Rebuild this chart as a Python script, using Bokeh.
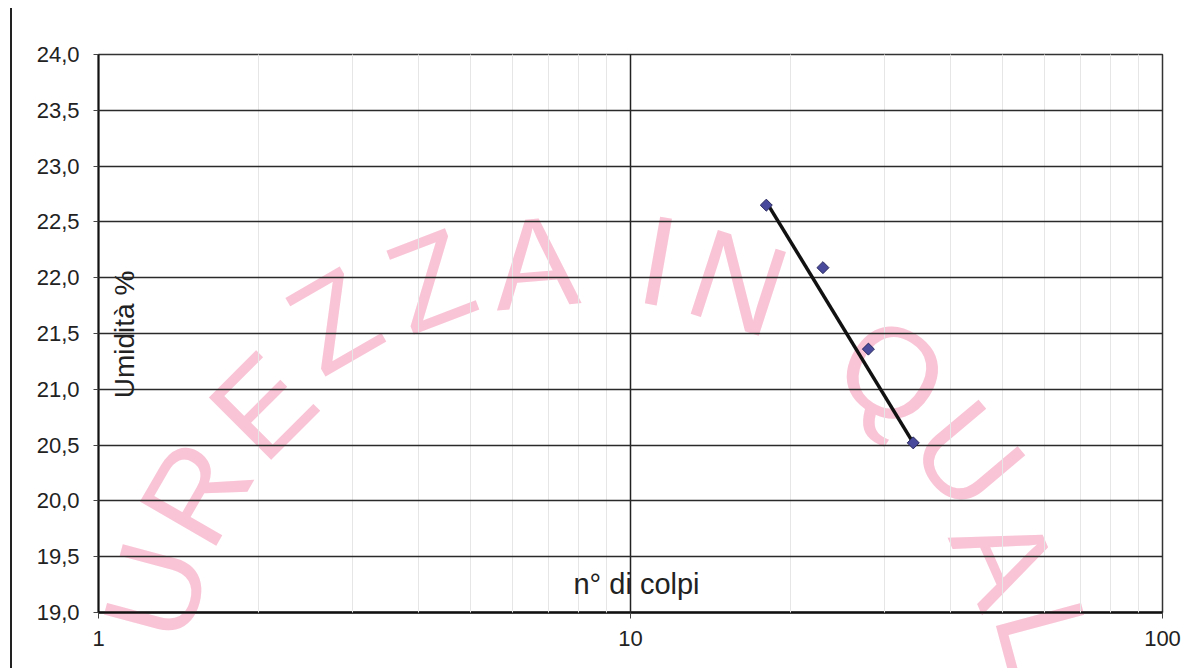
import math
from bokeh.plotting import figure
from bokeh.layouts import row
from bokeh.models import FixedTicker, Label, CustomJSTickFormatter, Div, ColumnDataSource
from bokeh.core.properties import value
from bokeh.embed import file_html
from bokeh.resources import INLINE

# ---- data ----
colpi = [18, 23, 28, 34]
umidita = [22.65, 22.09, 21.36, 20.52]
trend_x = [18, 34]
trend_y = [22.68, 20.52]
x_ticks = [1, 10, 100]
x_minor = [2, 3, 4, 5, 6, 7, 8, 9, 20, 30, 40, 50, 60, 70, 80, 90]
y_ticks = [19.0, 19.5, 20.0, 20.5, 21.0, 21.5, 22.0, 22.5, 23.0, 23.5, 24.0]
x_title = "n° di colpi"
y_title = "Umidità %"
watermark = ["U", "R", "E", "Z", "Z", "A", "I", "N", "Q", "U", "A", "L"]

# ---- layout (page pixel positions) ----
LEFT_STRIP = 12               # width of the strip holding the left border line
W, H = 1178, 668
FL, FR, FT, FB = 98, 1162, 54, 612  # frame edges on the page
XMIN, XMAX, YMIN, YMAX = 1, 100, 19, 24
p = figure(width=W, height=H, x_axis_type="log", x_range=(XMIN, XMAX), y_range=(YMIN, YMAX),
           output_backend="svg", toolbar_location=None,
           min_border_left=FL - LEFT_STRIP, min_border_right=W - (FR - LEFT_STRIP),
           min_border_top=FT, min_border_bottom=H - FB)

FONT = "Liberation Sans"

def fx(page_x):
    return page_x - FL

def fy(page_y):
    return FB - page_y

# watermark letters (decoration): page position -> plot coordinates
wm_pos = [(155, 590, 75), (195, 492, 60), (262, 405, 45), (333, 320, 30), (430, 280, 21),
          (535, 262, 5), (658, 260, -10), (738, 282, -18), (892, 372, -32), (968, 455, -50),
          (1005, 558, -66), (1045, 638, -75)]
lx0, lx1 = math.log10(XMIN), math.log10(XMAX)
wm_src = ColumnDataSource(dict(
    x=[10 ** (lx0 + (px - FL) / (FR - FL) * (lx1 - lx0)) for px, _, _ in wm_pos],
    y=[YMAX - (py - FT) / (FB - FT) * (YMAX - YMIN) for _, py, _ in wm_pos],
    a=[math.radians(a) for _, _, a in wm_pos],
    t=watermark))
p.text(x="x", y="y", text="t", angle="a", source=wm_src, text_align="center",
       text_baseline="middle", text_font=value(FONT), text_font_size="128px",
       text_color="#f9c4d5", level="guide")

# frame & background
p.background_fill_color = "white"
p.border_fill_color = "white"
p.outline_line_color = "#333333"
p.outline_line_width = 1.5

# grids (drawn above the watermark)
p.xgrid.ticker = FixedTicker(ticks=x_ticks, minor_ticks=x_minor)
p.xgrid.grid_line_color = "#222222"
p.xgrid.grid_line_width = 1.5
p.xgrid.minor_grid_line_color = "#e6e6e6"
p.xgrid.minor_grid_line_width = 1
p.ygrid.ticker = FixedTicker(ticks=y_ticks)
p.ygrid.grid_line_color = "#2a2a2a"
p.ygrid.grid_line_width = 1.5
p.xgrid.level = "annotation"
p.ygrid.level = "annotation"

# axes
p.xaxis.ticker = FixedTicker(ticks=x_ticks)
p.xaxis.formatter = CustomJSTickFormatter(code="return String(tick);")
p.yaxis.ticker = FixedTicker(ticks=y_ticks)
p.yaxis.formatter = CustomJSTickFormatter(code="return tick.toFixed(1).replace('.', ',');")
for ax in (p.xaxis[0], p.yaxis[0]):
    ax.level = "annotation"
    ax.axis_line_color = "#111111"
    ax.major_tick_line_color = "#444444"
    ax.major_tick_in = 0
    ax.minor_tick_line_color = None
    ax.major_label_text_font = FONT
    ax.major_label_text_font_size = "22px"
    ax.major_label_text_color = "#222222"
p.xaxis.axis_line_width = 2.5
p.xaxis.major_tick_out = 6
p.xaxis.major_label_standoff = 12
p.yaxis.axis_line_width = 2
p.yaxis.major_tick_out = 5
p.yaxis.major_label_standoff = 14

# axis titles drawn inside the frame, as in the reference
p.add_layout(Label(x=fx(124), y=fy(334), x_units="screen", y_units="screen", text=y_title,
                   angle=math.pi / 2, text_align="center", text_baseline="middle",
                   text_font=FONT, text_font_size="28px", text_color="#222222"))
p.add_layout(Label(x=fx(636), y=fy(583), x_units="screen", y_units="screen", text=x_title,
                   text_align="center", text_baseline="alphabetic",
                   text_font=FONT, text_font_size="29px", text_color="#222222"))

# trend line and points (on top of everything)
p.line(trend_x, trend_y, line_color="#111111", line_width=3.5, level="overlay")
p.scatter(colpi, umidita, marker="square", angle=math.pi / 4, size=8.5,
          fill_color="#4a4a9c", line_color="#2a2a60", line_width=1, level="overlay")

# left border line of the chart area
strip = Div(width=LEFT_STRIP, height=H - 8, text="", margin=(8, 0, 0, 0),
            styles={"border-right": "2px solid #222222", "box-sizing": "border-box"})

layout = row(strip, p)
open("out.html", "w").write(file_html(layout, INLINE))
